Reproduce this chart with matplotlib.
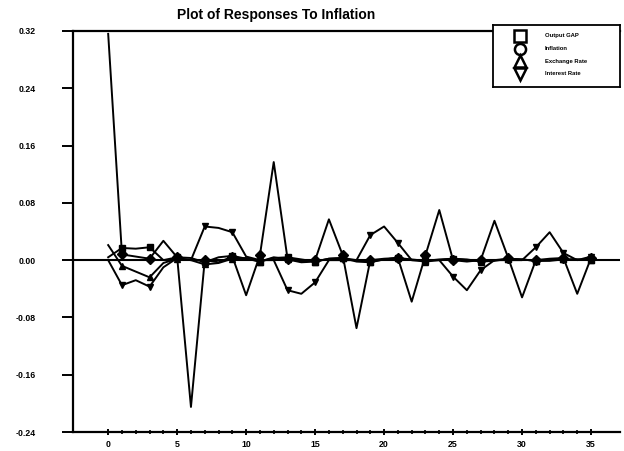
import numpy as np
import matplotlib
matplotlib.use("Agg")
import matplotlib.pyplot as plt

plt.rcParams['font.family'] = ['Liberation Sans', 'DejaVu Sans']
plt.rcParams['font.weight'] = 'bold'

# ---- responses to an inflation shock, periods 0..35 ----
periods = np.arange(36)

output_gap = [0.004, 0.017, 0.016, 0.018, 0.000, 0.004, 0.003, -0.003, 0.004, 0.006,
              0.002, -0.002, 0.003, 0.004, 0.001, -0.002, 0.002, 0.003, 0.000, -0.002,
              0.001, 0.003, 0.001, -0.001, 0.001, 0.002, 0.000, -0.001, 0.000, 0.002,
              0.001, -0.001, 0.000, 0.001, 0.001, 0.000]

inflation = [0.316, 0.008, 0.005, 0.002, 0.027, 0.004, -0.205, 0.000, -0.003, 0.005,
             -0.049, 0.007, 0.137, 0.002, -0.002, 0.000, 0.057, 0.007, -0.095, 0.000,
             0.002, 0.003, -0.058, 0.007, 0.070, 0.000, -0.002, 0.000, 0.055, 0.003,
             -0.052, 0.000, 0.002, 0.003, -0.047, 0.003]

exchange_rate = [0.021, -0.008, -0.016, -0.024, -0.004, 0.002, 0.000, -0.006, -0.004, 0.002,
                 0.003, -0.002, 0.004, 0.001, -0.003, -0.002, 0.002, 0.003, -0.002, -0.003,
                 0.001, 0.003, 0.000, -0.002, 0.000, 0.002, 0.001, -0.002, -0.001, 0.002,
                 0.001, -0.001, -0.001, 0.001, 0.001, 0.000]

interest_rate = [0.000, -0.035, -0.028, -0.037, -0.010, 0.003, 0.000, 0.047, 0.045, 0.039,
                 0.005, 0.000, 0.000, -0.042, -0.047, -0.031, 0.000, 0.000, 0.000, 0.035,
                 0.047, 0.024, 0.000, 0.000, 0.000, -0.023, -0.042, -0.014, 0.000, 0.000,
                 0.000, 0.018, 0.039, 0.010, 0.000, 0.005]

series_names = ['Output GAP', 'Inflation', 'Exchange Rate', 'Interest Rate']
series_values = [output_gap, inflation, exchange_rate, interest_rate]
series_markers = ['s', 'D', '^', 'v']
legend_markers = ['s', 'o', '^', 'v']

y_ticks = [0.32, 0.24, 0.16, 0.08, 0.00, -0.08, -0.16, -0.24]
x_ticks = [0, 5, 10, 15, 20, 25, 30, 35]

fig = plt.figure(figsize=(6.24, 4.51), dpi=100)
ax = fig.add_axes([73 / 624, 1 - 432 / 451, 547 / 624, 401 / 451])

ax.axhline(0, color='black', lw=1.5, zorder=1)
for vals, mk in zip(series_values, series_markers):
    ax.plot(periods, vals, color='black', lw=1.4, marker=mk, ms=5,
            markevery=slice(1, None, 2), mfc='black', mec='black')

ax.set_xlim(-2.55, 37.1)
ax.set_ylim(-0.24, 0.32)
ax.set_yticks(y_ticks)
ax.set_yticklabels([f'{v:.2f}' for v in y_ticks])
ax.set_xticks(x_ticks)
ax.set_xticks(periods, minor=True)

ax.spines['right'].set_visible(False)
for s in ['left', 'bottom', 'top']:
    ax.spines[s].set_linewidth(1.6)
ax.tick_params(axis='y', direction='out', length=8, width=1.4, labelsize=6.3, pad=19)
ax.tick_params(axis='x', which='major', direction='inout', length=5, width=1.4,
               labelsize=6.3, pad=3)
ax.tick_params(axis='x', which='minor', direction='inout', length=3, width=1.2)

fig.text(276 / 624, 1 - 15 / 451, 'Plot of Responses To Inflation',
         ha='center', va='center', fontsize=10, fontweight='bold')

# legend box drawn in its own small axes (pixel-like units inside)
lax = fig.add_axes([493 / 624, 1 - 87 / 451, 127 / 624, 62 / 451])
lax.set_xlim(0, 127)
lax.set_ylim(62, 0)
lax.set_xticks([])
lax.set_yticks([])
lax.set_facecolor('white')
for s in lax.spines.values():
    s.set_linewidth(1.3)
for i, (name, mk) in enumerate(zip(series_names, legend_markers)):
    yy = 11 + i * 12.5
    lax.plot([27], [yy], ls='none', marker=mk, ms=8 if mk != 's' else 8.5,
             mfc='white', mec='black', mew=1.8)
    lax.text(52, yy, name, fontsize=4.2, fontweight='bold', va='center', ha='left')

fig.savefig('out.png', dpi=100)
